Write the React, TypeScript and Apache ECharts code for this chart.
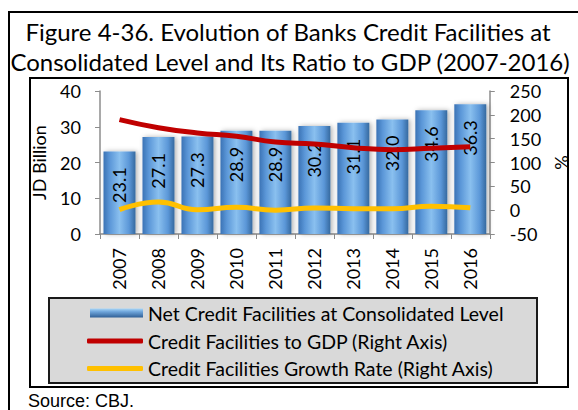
import React, { useEffect, useRef } from "react";
import * as echarts from "echarts";

const years = ["2007", "2008", "2009", "2010", "2011", "2012", "2013", "2014", "2015", "2016"];
const netCredit = [23.1, 27.1, 27.3, 28.9, 28.9, 30.2, 31.1, 32.0, 34.6, 36.3];
const creditToGdp = [190, 173, 162, 155, 143, 139, 131, 127, 130, 133];
const growthRate = [1, 17, 0.7, 5.9, 0, 4.5, 3, 2.9, 8.1, 4.9];
const titleLines = [
  "Figure 4-36. Evolution of Banks Credit Facilities at",
  "Consolidated Level and Its Ratio to GDP (2007-2016)",
];
const seriesNames = [
  "Net Credit Facilities at Consolidated Level",
  "Credit Facilities to GDP (Right Axis)",
  "Credit Facilities Growth Rate (Right Axis)",
];
const sourceText = "Source: CBJ.";

const FONT = "Lato";

export default function App() {
  const ref = useRef<HTMLDivElement>(null);
  useEffect(() => {
    document.body.style.margin = "0";
    const chart = echarts.init(ref.current!, null, { renderer: "svg" });
    const barGradient = new echarts.graphic.LinearGradient(0, 0, 1, 0, [
      { offset: 0, color: "#3b73b5" },
      { offset: 0.2, color: "#5b97d8" },
      { offset: 0.5, color: "#8ac0ef" },
      { offset: 0.8, color: "#5b97d8" },
      { offset: 1, color: "#35699f" },
    ]);
    const legendBarGradient = new echarts.graphic.LinearGradient(0, 0, 0, 1, [
      { offset: 0, color: "#a9d6f7" },
      { offset: 0.35, color: "#6fa6dc" },
      { offset: 1, color: "#2f5f96" },
    ]);
    const legendText = { fontFamily: FONT, fontSize: 19.5, color: "#000", lineHeight: 20 };
    chart.setOption({
      animation: false,
      backgroundColor: "#ffffff",
      textStyle: { fontFamily: FONT },
      graphic: [
        {
          type: "rect",
          z: 0,
          shape: { x: 9, y: 12, width: 600, height: 420 },
          style: { fill: "#ffffff", stroke: "#000000", lineWidth: 2 },
        },
        {
          type: "rect",
          z: 0,
          shape: { x: 30, y: 78, width: 538, height: 309 },
          style: { fill: "#ffffff", stroke: "#000000", lineWidth: 2 },
        },
        {
          type: "rect",
          z: 0,
          shape: { x: 49, y: 298, width: 488, height: 85 },
          style: { fill: "#d9d9d9", stroke: "#1a1a1a", lineWidth: 2 },
        },
        {
          type: "text",
          z: 1,
          x: 288,
          y: 31,
          style: {
            text: titleLines[0],
            fontFamily: FONT,
            fontSize: 24,
            fill: "#000",
            align: "center",
            verticalAlign: "middle",
          },
        },
        {
          type: "text",
          z: 1,
          x: 290,
          y: 61,
          style: {
            text: titleLines[1],
            fontFamily: FONT,
            fontSize: 24,
            fill: "#000",
            align: "center",
            verticalAlign: "middle",
          },
        },
        {
          type: "text",
          z: 1,
          x: 28,
          y: 401,
          style: {
            text: sourceText,
            fontFamily: "Liberation Sans",
            fontSize: 18,
            fill: "#000",
            align: "left",
            verticalAlign: "middle",
          },
        },
      ],
      grid: { left: 100, right: 86, top: 91, bottom: 176, containLabel: false },
      legend: [
        {
          orient: "vertical",
          left: 90,
          top: 303,
          padding: 0,
          itemWidth: 53,
          itemHeight: 9,
          itemGap: 7.5,
          z: 5,
          textStyle: legendText,
          data: [{ name: seriesNames[0], icon: "rect", itemStyle: { color: legendBarGradient } }],
        },
        {
          orient: "vertical",
          left: 87,
          top: 331,
          padding: 0,
          itemWidth: 56,
          itemHeight: 5,
          itemGap: 7.5,
          z: 5,
          icon: "roundRect",
          textStyle: legendText,
          data: [seriesNames[1], seriesNames[2]],
        },
      ],
      xAxis: {
        type: "category",
        data: years,
        axisLine: { lineStyle: { color: "#8c8c8c", width: 1.5 } },
        axisTick: { show: true, length: 5, lineStyle: { color: "#8c8c8c" } },
        axisLabel: {
          rotate: 90,
          fontFamily: FONT,
          fontSize: 18,
          color: "#000",
          margin: 14,
        },
      },
      yAxis: [
        {
          type: "value",
          min: 0,
          max: 40,
          interval: 10,
          name: "JD Billion",
          nameLocation: "middle",
          nameRotate: 90,
          nameGap: 52,
          nameTextStyle: { fontFamily: FONT, fontSize: 18, color: "#000" },
          axisLine: { show: true, lineStyle: { color: "#8c8c8c", width: 1.5 } },
          axisTick: { show: true, length: 5, lineStyle: { color: "#8c8c8c" } },
          axisLabel: { fontFamily: FONT, fontSize: 18, color: "#000", margin: 19 },
          splitLine: { show: false },
        },
        {
          type: "value",
          min: -50,
          max: 250,
          interval: 50,
          name: "%",
          nameLocation: "middle",
          nameRotate: 90,
          nameGap: 52,
          nameTextStyle: { fontFamily: FONT, fontSize: 18, color: "#000" },
          axisLine: { show: true, lineStyle: { color: "#8c8c8c", width: 1.5 } },
          axisTick: { show: true, length: 5, lineStyle: { color: "#8c8c8c" } },
          axisLabel: { fontFamily: FONT, fontSize: 18, color: "#000", margin: 20 },
          splitLine: { show: false },
        },
      ],
      series: [
        {
          name: seriesNames[0],
          type: "bar",
          data: netCredit,
          barCategoryGap: "18%",
          itemStyle: {
            color: barGradient,
            shadowColor: "rgba(0,0,0,0.3)",
            shadowBlur: 5,
            shadowOffsetX: 2,
          },
          label: {
            show: true,
            position: "insideTop",
            rotate: 90,
            align: "right",
            verticalAlign: "middle",
            distance: 16,
            fontFamily: FONT,
            fontSize: 18,
            color: "#000",
            formatter: (p: any) => p.value.toFixed(1),
          },
        },
        {
          name: seriesNames[1],
          type: "line",
          yAxisIndex: 1,
          data: creditToGdp,
          smooth: true,
          symbol: "none",
          z: 3,
          lineStyle: { color: "#c00000", width: 5 },
          itemStyle: { color: "#c00000" },
        },
        {
          name: seriesNames[2],
          type: "line",
          yAxisIndex: 1,
          data: growthRate,
          smooth: true,
          symbol: "none",
          z: 3,
          lineStyle: { color: "#ffc000", width: 5 },
          itemStyle: { color: "#ffc000" },
        },
      ],
    });
    return () => chart.dispose();
  }, []);
  return <div ref={ref} style={{ width: 578, height: 410 }} />;
}
